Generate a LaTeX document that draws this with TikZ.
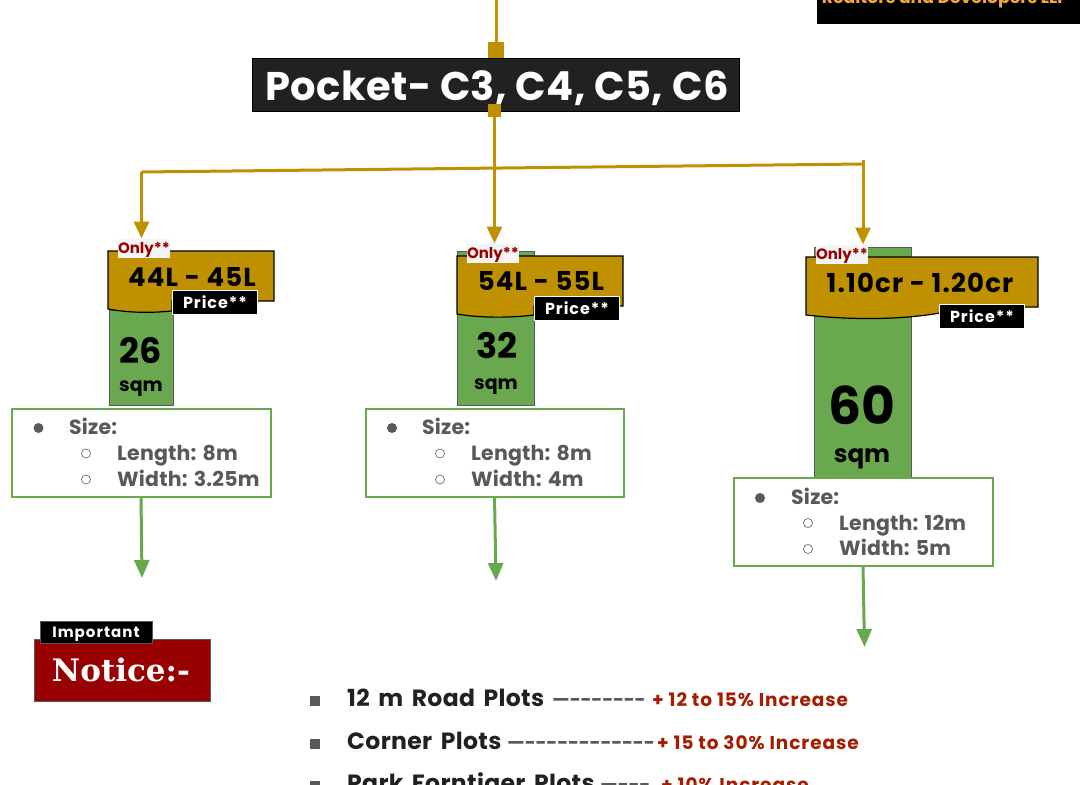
\documentclass[tikz,border=0pt]{standalone}
\usepackage{fontspec}
\setmainfont{Poppins}[UprightFont=* Bold,BoldFont=* Bold]
\newfontfamily\rawfont{Poppins}[UprightFont=* Bold,Ligatures=NoCommon]
\newfontfamily\listfont{Poppins}[UprightFont=* Bold,LetterSpace=1.5,WordSpace=1.6]
\newfontfamily\serifbold{DejaVu Serif}[UprightFont=* Bold]
\usetikzlibrary{arrows.meta}
\definecolor{gold}{HTML}{BF9000}
\definecolor{leaf}{HTML}{6AA84F}
\definecolor{wine}{HTML}{990000}
\definecolor{ink}{HTML}{212121}
\definecolor{slate}{HTML}{595959}
\definecolor{rust}{HTML}{A61C00}
\definecolor{amber}{HTML}{F1A83A}
\newcommand{\fs}[1]{\fontsize{#1}{#1}\selectfont}
\newcommand{\lsp}[1]{\addfontfeature{LetterSpace=#1}}
\newcommand{\dashrun}[1]{\rawfont —\foreach \n in {1,...,#1}{\kern-.1pt{-}\kern-.1pt}}
\newcommand{\lowered}[1]{\raisebox{-5.2pt}[0pt][0pt]{#1}}
\tikzset{
 x=1pt,y=-1pt,
 goldline/.style={draw=gold,line width=3pt},
 goldarrow/.style={goldline,-{Triangle[length=17pt,width=15pt]}},
 leafarrow/.style={draw=leaf,line width=3pt,-{Triangle[length=18pt,width=15pt]}},
 plain/.style={inner sep=0pt,outer sep=0pt,anchor=center},
 sizebox/.style={plain,draw=leaf,line width=2pt,fill=white,minimum width=258pt,minimum height=88pt},
 plotbox/.style={plain,draw=slate,line width=.8pt,fill=leaf},
 pricebody/.style={draw=black,line width=1.2pt,fill=gold},
 pricetag/.style={plain,fill=black,draw=white,line width=1pt,text=white,minimum width=85pt,minimum height=24pt,font=\fs{16}\lsp{6}},
 onlytag/.style={plain,fill=white!96!black,text=wine,minimum width=52pt,minimum height=19pt,font=\fs{15}},
 amount/.style={plain,text=black,font=\fs{26}\lsp{4.5}},
 bigtext/.style={plain,text=black},
 infotext/.style={inner sep=0pt,anchor=base west,text=slate,font=\fs{20.5}\lsp{1}},
 dot/.style={circle,fill=slate,inner sep=0pt,minimum size=10pt},
 ring/.style={circle,draw=slate,line width=.6pt,fill=white,inner sep=0pt,minimum size=9pt},
 bullet/.style={fill=slate,inner sep=0pt,minimum size=10pt},
 plotname/.style={inner sep=0pt,anchor=base west,text=ink,font=\listfont\fs{23.5}},
 dashes/.style={inner sep=0pt,anchor=base west,text=slate,font=\fs{19}},
 rise/.style={inner sep=0pt,anchor=base west,text=rust,font=\fs{18.5}\lsp{5}},
}
\begin{document}
\begin{tikzpicture}
\useasboundingbox (0,0) rectangle (1080,785);
\clip (0,0) rectangle (1080,785);
% logo strip
\node[plain,fill=black,minimum width=263pt,minimum height=24pt] (logo) at (948.5,12) {};
\node[inner sep=0pt,anchor=base,text=amber,font=\fs{17.2}] (logotext) at (945,3.5) {Realtors and Developers LLP};
% title
\node[plain,fill=ink,draw=black,line width=1pt,minimum width=487pt,minimum height=53pt] (title) at (496,85) {};
\node[plain,text=white,font=\fs{40}\lsp{1}] (titletext) at (497,88) {Pocket- C3, C4, C5, C6};
\coordinate (topend) at (496,0);
\node[plain,fill=gold,minimum size=16pt] (sqtop) at (496,50) {};
\node[plain,fill=gold,minimum size=13pt] (sqbot) at (494.5,110.5) {};
\draw[goldline] (topend) -- (sqtop.north);
% plot bodies
\node[plotbox,minimum width=64pt,minimum height=95pt] (plotA) at (141,357.5) {};
\node[plotbox,minimum width=77pt,minimum height=154pt] (plotB) at (495.5,328) {};
\node[plotbox,minimum width=97pt,minimum height=231pt] (plotC) at (862.5,362.5) {};
% price bodies
\draw[pricebody] (108,251) -- (274,251) -- (274,301) -- (172,301) -- (172,311) .. controls (150,313) and (130,313) .. (108,309) -- cycle;
\draw[pricebody] (457,256) -- (623,256) -- (623,306) -- (534,306) -- (534,315) .. controls (510,318) and (480,318) .. (457,314) -- cycle;
\draw[pricebody] (806,257) -- (1038,257) -- (1038,307) -- (940,307) -- (940,313) .. controls (900,320) and (850,320) .. (806,315) -- cycle;
% amounts
\node[amount] (amtA) at (192,277) {44L - 45L};
\node[amount] (amtB) at (541,281) {54L - 55L};
\node[amount] (amtC) at (920,283) {1.10cr - 1.20cr};
\node[pricetag] (tagA) at (215,302) {Price**};
\node[pricetag] (tagB) at (577,308) {Price**};
\node[pricetag] (tagC) at (982,316) {Price**};
\node[onlytag] (onlyA) at (144,248) {\lowered{Only**}};
\node[onlytag] (onlyB) at (493,253) {\lowered{Only**}};
\node[onlytag] (onlyC) at (842,254) {\lowered{Only**}};
% sizes
\node[bigtext,font=\fs{35}] (numA) at (141,351) {26};
\node[bigtext,font=\fs{19}] (sqmA) at (141,389) {sqm};
\node[bigtext,font=\fs{35}] (numB) at (497,346) {32};
\node[bigtext,font=\fs{19}] (sqmB) at (496,387) {sqm};
\node[bigtext,font=\fs{52}] (numC) at (862,405) {60};
\node[bigtext,font=\fs{24.5}] (sqmC) at (862,459) {sqm};
% info boxes
\node[sizebox,minimum width=259pt,minimum height=88pt] (infoA) at (141,452.5) {};
\node[sizebox] (infoB) at (494.5,452.5) {};
\node[sizebox,minimum width=259pt] (infoC) at (863,522) {};
\node[dot] (dA) at (38.5,428) {};
\node[infotext] (sA) at (69,434) {Size:};
\node[ring] (r1A) at (86,453.5) {};
\node[infotext] (lA) at (117,460) {Length: 8m};
\node[ring] (r2A) at (86,479.5) {};
\node[infotext] (wA) at (117,486) {Width: 3.25m};
\node[dot] (dB) at (392,428) {};
\node[infotext] (sB) at (422,434) {Size:};
\node[ring] (r1B) at (440,453.5) {};
\node[infotext] (lB) at (471,460) {Length: 8m};
\node[ring] (r2B) at (440,479.5) {};
\node[infotext] (wB) at (471,486) {Width: 4m};
\node[dot] (dC) at (760,498) {};
\node[infotext] (sC) at (791,504) {Size:};
\node[ring] (r1C) at (808,523) {};
\node[infotext] (lC) at (839,530) {Length: 12m};
\node[ring] (r2C) at (808,549) {};
\node[infotext] (wC) at (839,555) {Width: 5m};
% connectors
\coordinate (jA) at (141.5,172);
\coordinate (jC) at (863,164);
\coordinate (jCtop) at (863,160);
\draw[goldline,line cap=butt] (jA) -- (jC);
\draw[goldline] (jCtop) -- (jC);
\draw[goldarrow] (jA) -- (jA |- onlyA.north);
\draw[goldarrow] (sqbot.south) -- (sqbot.south |- onlyB.north);
\draw[goldarrow] (jC) -- (jC |- onlyC.north);
\coordinate (endA) at (142,578);
\coordinate (endB) at (496,581);
\coordinate (endC) at (864.5,647);
\draw[leafarrow] (infoA.south) -- (endA);
\draw[leafarrow] (infoB.south) -- (endB);
\draw[leafarrow] (infoC.south) -- (endC);
% notice
\node[plain,fill=wine,draw=slate,line width=.8pt,minimum width=176pt,minimum height=62pt] (notice) at (122.5,670) {};
\node[plain,text=white,font=\serifbold\fs{31}] (noticetext) at (121,670) {Notice:-};
\node[plain,fill=black,draw=slate,line width=.6pt,text=white,minimum width=112pt,minimum height=22pt,font=\fs{15}\lsp{7}] (important) at (96,632) {\lowered{Important}};
% list
\node[bullet] (b1) at (315,701) {};
\node[plotname] (p1) at (347,706) {12 m Road Plots};
\node[dashes] (d1) at (552,706) {\dashrun{7}};
\node[rise] (i1) at (652,706) {+ 12 to 15\% Increase};
\node[bullet] (b2) at (315,744) {};
\node[plotname] (p2) at (347,749) {Corner Plots};
\node[dashes] (d2) at (507,749) {\dashrun{12}};
\node[rise] (i2) at (657,749) {+ 15 to 30\% Increase};
\node[bullet] (b3) at (315,786) {};
\node[plotname] (p3) at (347,791) {Park Forntiqer Plots};
\node[dashes] (d3) at (600,791) {\dashrun{3}};
\node[rise] (i3) at (661,791) {+ 10\% Increase};
\end{tikzpicture}
\end{document}
